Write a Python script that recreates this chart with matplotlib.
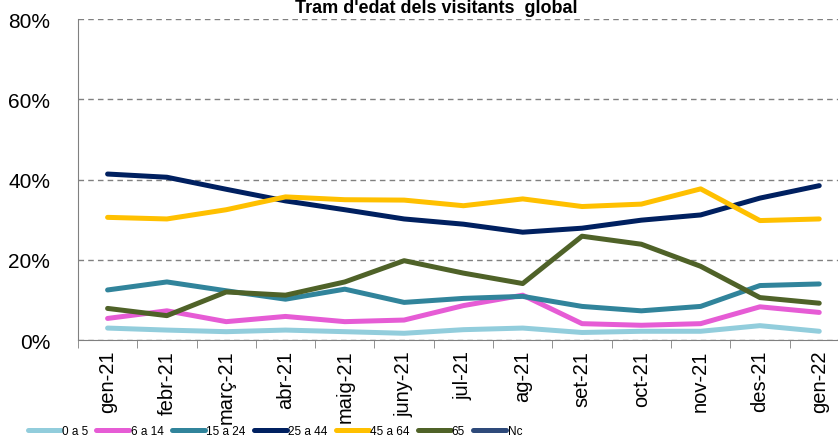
import numpy as np
import matplotlib
matplotlib.use('Agg')
import matplotlib.pyplot as plt
from matplotlib.ticker import FixedLocator

plt.rcParams['font.family'] = ['Liberation Sans', 'DejaVu Sans']

months = ['gen-21', 'febr-21', 'març-21', 'abr-21', 'maig-21', 'juny-21', 'jul-21',
          'ag-21', 'set-21', 'oct-21', 'nov-21', 'des-21', 'gen-22']

age_0_5 = [3.0, 2.5, 2.1, 2.5, 2.1, 1.7, 2.6, 3.0, 1.9, 2.2, 2.2, 3.6, 2.2]
age_6_14 = [5.4, 7.3, 4.6, 5.9, 4.6, 5.0, 8.6, 11.2, 4.1, 3.7, 4.1, 8.3, 6.9]
age_15_24 = [12.5, 14.5, 12.3, 10.2, 12.7, 9.4, 10.4, 10.9, 8.4, 7.3, 8.4, 13.6, 14.0]
age_25_44 = [41.4, 40.6, 37.6, 34.7, 32.5, 30.2, 28.9, 26.9, 27.9, 29.9, 31.2, 35.4, 38.5]
age_45_64 = [30.6, 30.2, 32.5, 35.7, 35.0, 34.9, 33.5, 35.2, 33.3, 33.9, 37.7, 29.8, 30.2]
age_65 = [7.9, 6.1, 12.0, 11.2, 14.5, 19.8, 16.7, 14.1, 25.9, 23.9, 18.4, 10.6, 9.2]
age_nc = [np.nan] * 13

series = [
    ('0 a 5', age_0_5, '#92CDDC'),
    ('6 a 14', age_6_14, '#E65CD5'),
    ('15 a 24', age_15_24, '#31849B'),
    ('25 a 44', age_25_44, '#002060'),
    ('45 a 64', age_45_64, '#FFC000'),
    ('65', age_65, '#4F6228'),
    ('Nc', age_nc, '#2E4A7A'),
]

fig = plt.figure(figsize=(8.38, 4.39), dpi=100)
ax = fig.add_axes([0.093, 0.223, 0.92, 0.731])

x = np.arange(len(months))
for name, vals, col in series:
    ax.plot(x, vals, color=col, linewidth=3.6, solid_capstyle='round',
            solid_joinstyle='round', label=name)

ax.set_xlim(-0.5, 12.5)
ax.set_ylim(0, 80)
ax.set_yticks([0, 20, 40, 60, 80])
ax.set_yticklabels(['0%', '20%', '40%', '60%', '80%'], fontsize=15)
ax.yaxis.grid(True, linestyle=(0, (4, 3)), color='#808080', linewidth=1)
ax.set_axisbelow(True)

ax.set_xticks(x)
ax.set_xticklabels(months, rotation=90, fontsize=14.5)
ax.xaxis.set_minor_locator(FixedLocator(np.arange(-0.5, 13, 1)))
ax.tick_params(axis='x', which='major', length=0, pad=7)
ax.tick_params(axis='x', which='minor', length=6, color='#808080')
ax.tick_params(axis='y', length=0, pad=20)

for s in ['top', 'right']:
    ax.spines[s].set_visible(False)
for s in ['left', 'bottom']:
    ax.spines[s].set_color('#808080')

fig.text(0.52, 1.0, "Tram d'edat dels visitants  global", ha='center', va='top',
         fontsize=13, fontweight='bold')

fig.legend(loc='center', bbox_to_anchor=(0.328, 0.015), ncol=7, frameon=False,
           fontsize=8.5, handlelength=2.8, handletextpad=0.1, columnspacing=0.7)

plt.savefig('out.png', dpi=100)
